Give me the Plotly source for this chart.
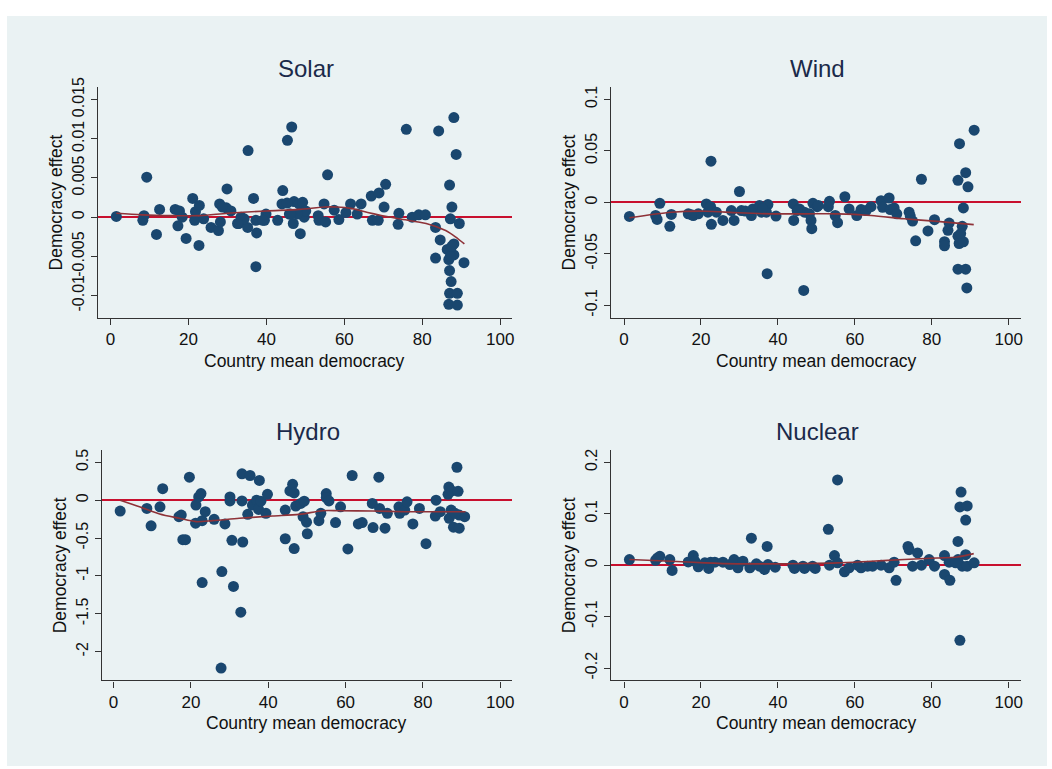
import plotly.graph_objects as go

W, H = 1052, 769

# ---------------- data ----------------
solar_x = [1.5, 8.6, 8.3, 9.3, 11.8, 12.6, 16.6, 17.7, 17.3, 18.4,
           19.4, 21.1, 21.8, 22.8, 21.6, 22.7, 23.9, 25.8, 28.0, 27.7,
           28.2, 29.9, 29.7, 30.9, 32.9, 33.5, 35.2, 35.3, 36.7, 37.3,
           37.5, 37.3, 39.5, 39.9, 42.9, 44.2, 44.0, 45.4, 46.5, 45.9,
           46.9, 47.1, 48.4, 49.3, 48.7, 49.7, 50.1, 53.3, 53.5, 54.8,
           55.2, 55.7, 57.4, 58.6, 60.4, 61.6, 63.3, 64.3, 66.9, 67.2,
           68.7, 68.9, 70.6, 70.2, 74.0, 73.8, 75.9, 77.4, 79.1, 80.8,
           83.4, 83.4, 84.2, 84.6, 86.4, 86.8, 87.0, 87.4, 87.0, 86.8,
           89.0, 89.0, 87.0, 87.6, 87.2, 88.1, 88.7, 89.5, 88.1, 88.1,
           87.6, 90.7, 87.2, 34.3, 39.1, 47.9, 45.3, 28.7, 32.6, 46.2]
solar_y = [0.0001, 0.0002, -0.0004, 0.0051, -0.0022, 0.0010, 0.0010, 0.0008, -0.0011, 0.0000,
           -0.0027, 0.0024, 0.0007, 0.0015, -0.0004, -0.0036, -0.0002, -0.0013, 0.0017, -0.0017,
           -0.0006, 0.0036, 0.0012, 0.0008, -0.0008, 0.0000, -0.0013, 0.0085, 0.0024, -0.0004,
           -0.0020, -0.0063, -0.0004, 0.0004, -0.0004, 0.0034, 0.0017, 0.0098, 0.0115, 0.0004,
           -0.0008, 0.0020, 0.0017, 0.0019, -0.0021, 0.0000, 0.0008, 0.0002, -0.0004, 0.0017,
           -0.0006, 0.0054, 0.0009, -0.0003, 0.0006, 0.0017, 0.0004, 0.0017, 0.0027, -0.0004,
           -0.0004, 0.0031, 0.0042, 0.0013, 0.0005, -0.0009, 0.0112, 0.0000, 0.0003, 0.0003,
           -0.0013, -0.0052, 0.0110, -0.0029, -0.0041, -0.0054, -0.0068, -0.0082, -0.0097, -0.0111,
           -0.0097, -0.0112, 0.0041, 0.0013, -0.0002, 0.0127, 0.0080, -0.0008, -0.0034, -0.0048,
           -0.0037, -0.0058, -0.0050, -0.0002, -0.0004, 0.0004, 0.0018, 0.0013, -0.0008, 0.0004]
solar_fit_x = [1.5, 8, 16, 23, 30, 40, 48.4, 55, 58, 62, 66, 74, 81, 86, 88.5, 90.8]
solar_fit_y = [0.0005, 0.0003, 0.0002, 0.0002, 0.0005, 0.0008, 0.0010, 0.0013, 0.0013,
               0.0011, 0.0006, -0.0002, -0.0008, -0.0017, -0.0025, -0.0034]

wind_x = [1.4, 8.2, 8.6, 9.3, 11.9, 12.3, 16.7, 18.0, 19.3, 21.4,
          21.8, 22.5, 22.6, 22.7, 24.0, 25.7, 27.9, 28.6, 30.0, 30.5,
          33.1, 33.5, 35.2, 35.7, 37.4, 37.0, 37.2, 39.5, 44.0, 44.1,
          45.6, 46.9, 46.7, 48.2, 48.6, 48.8, 49.1, 50.2, 53.4, 53.1,
          54.9, 55.5, 57.4, 58.5, 60.5, 61.6, 62.9, 64.2, 66.8, 67.2,
          68.9, 69.2, 70.2, 70.9, 74.1, 74.4, 75.0, 75.8, 77.3, 79.0,
          80.7, 83.3, 83.3, 84.5, 84.2, 86.8, 87.2, 86.8, 87.1, 86.8,
          88.8, 88.2, 88.8, 89.4, 89.1, 91.0, 88.2, 87.9, 87.5, 17.5,
          31.5, 36.0, 45.0, 50.5]
wind_y = [-0.0137, -0.0128, -0.0166, -0.0010, -0.0233, -0.0118, -0.0112, -0.0128, -0.0112, -0.0016,
          -0.0096, -0.0042, 0.0400, -0.0214, -0.0096, -0.0176, -0.0080, -0.0176, 0.0105, -0.0080,
          -0.0128, -0.0064, -0.0032, -0.0096, -0.0022, -0.0096, -0.0693, -0.0134, -0.0016, -0.0176,
          -0.0064, -0.0096, -0.0856, -0.0112, -0.0176, -0.0256, -0.0010, -0.0042, 0.0010, -0.0042,
          -0.0128, -0.0198, 0.0054, -0.0064, -0.0128, -0.0070, -0.0080, -0.0042, 0.0016, -0.0048,
          0.0042, -0.0070, -0.0054, -0.0112, -0.0096, -0.0134, -0.0182, -0.0374, 0.0224, -0.0278,
          -0.0169, -0.0383, -0.0422, -0.0201, -0.0272, 0.0214, 0.0569, -0.0329, -0.0400, -0.0649,
          -0.0649, -0.0054, 0.0288, 0.0150, -0.0831, 0.0700, -0.0383, -0.0233, -0.0304, -0.0120,
          -0.0085, -0.0060, -0.0080, -0.0030]
wind_fit_x = [1.4, 12.3, 21.0, 29.6, 38.3, 46.9, 55.5, 64.2, 72.8, 81.4, 90.9]
wind_fit_y = [-0.0150, -0.0096, -0.0086, -0.0102, -0.0112, -0.0112, -0.0112, -0.0128,
              -0.0160, -0.0185, -0.0217]

hydro_x = [1.7, 8.6, 9.7, 12.0, 12.7, 16.9, 17.5, 17.9, 18.6, 19.6,
           21.2, 21.3, 22.0, 22.6, 22.9, 22.9, 23.7, 26.0, 28.0, 27.8,
           28.8, 30.1, 30.1, 30.6, 31.0, 33.2, 33.2, 33.4, 32.9, 34.7,
           35.3, 35.9, 37.0, 37.7, 37.5, 38.1, 39.8, 39.4, 44.4, 44.4,
           45.6, 46.3, 46.7, 46.7, 47.1, 48.4, 49.3, 49.0, 49.9, 50.1,
           53.1, 53.6, 55.0, 55.0, 55.7, 57.4, 58.7, 60.6, 61.7, 63.3,
           64.3, 66.9, 67.1, 68.6, 68.8, 70.2, 70.8, 73.8, 74.0, 75.3,
           75.9, 77.4, 79.1, 80.8, 83.4, 83.2, 84.5, 86.7, 86.5, 87.5,
           87.3, 86.8, 87.9, 88.8, 89.1, 89.4, 89.4, 90.8, 88.3]
hydro_y = [-0.143, -0.109, -0.339, -0.087, 0.152, -0.217, -0.196, -0.522, -0.522, 0.304,
           -0.304, -0.065, 0.043, 0.087, -0.270, -1.087, -0.152, -0.252, -0.943, -2.217,
           -0.313, 0.043, -0.009, -0.530, -1.139, 0.348, -0.009, -0.552, -1.478, -0.187,
           0.326, -0.065, 0.000, 0.261, -0.122, -0.013, 0.078, -0.174, -0.130, -0.509,
           0.122, 0.209, 0.096, -0.639, -0.078, -0.043, -0.013, -0.217, -0.291, -0.443,
           -0.270, -0.174, 0.087, 0.035, -0.009, -0.296, -0.087, -0.643, 0.326, -0.313,
           -0.296, -0.043, -0.361, 0.304, -0.109, -0.370, -0.174, -0.087, -0.174, -0.130,
           -0.022, -0.313, -0.109, -0.574, 0.000, -0.209, -0.152, 0.174, 0.078, 0.122,
           -0.130, -0.239, -0.357, 0.435, 0.117, -0.370, -0.196, -0.217, -0.174]
hydro_fit_x = [1.7, 6.7, 11.9, 17.0, 21.3, 25.6, 32.5, 41.1, 48.0, 54.0, 58.3, 66.9, 75.5, 84.1, 91.0]
hydro_fit_y = [0.000, -0.087, -0.183, -0.239, -0.283, -0.270, -0.239, -0.209, -0.187,
               -0.139, -0.139, -0.143, -0.152, -0.152, -0.152]

nuclear_x = [1.4, 8.2, 8.7, 9.3, 11.9, 12.5, 16.7, 18.0, 18.4, 19.3,
             21.0, 22.0, 22.5, 23.6, 25.7, 27.5, 28.6, 29.6, 30.9, 32.7,
             33.1, 34.4, 35.2, 36.5, 37.2, 37.4, 39.3, 43.9, 44.3, 46.5,
             46.9, 49.0, 49.7, 53.1, 53.4, 54.7, 55.5, 55.5, 57.3, 58.5,
             60.7, 61.6, 63.3, 64.6, 66.8, 68.9, 70.2, 70.7, 73.8, 74.1,
             75.0, 76.3, 77.3, 79.3, 80.7, 83.3, 83.3, 84.7, 84.5, 86.8,
             87.6, 87.3, 89.2, 88.8, 87.3, 88.8, 87.9, 86.8, 89.2, 91.0,
             86.2]
nuclear_y = [0.0109, 0.0096, 0.0141, 0.0173, 0.0109, -0.0102, 0.0064, 0.0186, 0.0077, -0.0032,
             0.0045, -0.0064, 0.0058, 0.0058, 0.0058, 0.0013, 0.0109, -0.0051, 0.0077, -0.0051,
             0.0525, 0.0026, -0.0019, -0.0083, 0.0365, 0.0013, -0.0038, 0.0000, -0.0064, -0.0019,
             -0.0064, -0.0019, -0.0064, 0.0697, 0.0000, 0.0186, 0.1657, 0.0045, -0.0128, -0.0051,
             0.0000, -0.0051, -0.0019, -0.0019, 0.0000, -0.0051, 0.0058, -0.0294, 0.0365, 0.0301,
             -0.0019, 0.0237, 0.0000, 0.0109, -0.0019, 0.0186, -0.0179, -0.0294, 0.0058, 0.0461,
             0.1420, 0.1132, 0.1152, 0.0877, -0.1459, 0.0205, -0.0019, 0.0109, -0.0019, 0.0045,
             0.0045]
nuclear_fit_x = [1.4, 12.3, 21.0, 29.6, 38.3, 46.9, 55.5, 64.2, 72.8, 81.4, 86.6, 90.9]
nuclear_fit_y = [0.0109, 0.0077, 0.0045, 0.0026, 0.0026, 0.0032, 0.0045, 0.0077, 0.0109,
                 0.0141, 0.0160, 0.0224]

titles = ["Solar", "Wind", "Hydro", "Nuclear"]
x_ticks = [0, 20, 40, 60, 80, 100]
solar_ticks = [-0.01, -0.005, 0, 0.005, 0.01, 0.015]
solar_tick_text = ["-0.01", "-0.005", "0", "0.005", "0.01", "0.015"]
wind_ticks = [-0.1, -0.05, 0, 0.05, 0.1]
wind_tick_text = ["-0.1", "-0.05", "0", "0.05", "0.1"]
hydro_ticks = [-2, -1.5, -1, -0.5, 0, 0.5]
hydro_tick_text = ["-2", "-1.5", "-1", "-0.5", "0", "0.5"]
nuclear_ticks = [-0.2, -0.1, 0, 0.1, 0.2]
nuclear_tick_text = ["-0.2", "-0.1", "0", "0.1", "0.2"]

# ---------------- style / layout ----------------
BG = "#EAF2F3"
NAVY = "#1A476F"
RED = "#C8102E"
FIT = "#8E3238"
FONT = "Liberation Sans, Arial, sans-serif"

panels = [
    dict(x=solar_x, y=solar_y, fx=solar_fit_x, fy=solar_fit_y,
         ticks=solar_ticks, ttext=solar_tick_text,
         box=(98.3, 513.0, 78.0, 311.7), xr=(-3.2, 102.9), yr=(-0.0128, 0.0166)),
    dict(x=wind_x, y=wind_y, fx=wind_fit_x, fy=wind_fit_y,
         ticks=wind_ticks, ttext=wind_tick_text,
         box=(612.7, 1024.0, 78.0, 311.7), xr=(-3.4, 103.2), yr=(-0.112, 0.112)),
    dict(x=hydro_x, y=hydro_y, fx=hydro_fit_x, fy=hydro_fit_y,
         ticks=hydro_ticks, ttext=hydro_tick_text,
         box=(102.3, 513.3, 445.7, 679.3), xr=(-3.0, 103.0), yr=(-2.38, 0.664)),
    dict(x=nuclear_x, y=nuclear_y, fx=nuclear_fit_x, fy=nuclear_fit_y,
         ticks=nuclear_ticks, ttext=nuclear_tick_text,
         box=(612.7, 1024.0, 445.7, 679.3), xr=(-3.4, 103.2), yr=(-0.224, 0.224)),
]

fig = go.Figure()
layout = dict(
    width=W, height=H, autosize=False,
    margin=dict(l=0, r=0, t=0, b=0),
    paper_bgcolor="white", plot_bgcolor="white",
    showlegend=False,
    font=dict(family=FONT, size=17, color="#111111"),
)
shapes = [dict(type="rect", xref="paper", yref="paper",
               x0=7 / W, x1=1050 / W, y0=1 - 766 / H, y1=1 - 6 / H,
               fillcolor=BG, line=dict(width=0), layer="below")]
annotations = []

for i, p in enumerate(panels):
    n = "" if i == 0 else str(i + 1)
    xa, ya = "x" + n, "y" + n
    l, r, t, b = p["box"]
    # markers
    fig.add_trace(go.Scatter(
        x=p["x"], y=p["y"], mode="markers", xaxis=xa, yaxis=ya,
        marker=dict(size=11, color=NAVY, line=dict(width=0)),
        hoverinfo="x+y", cliponaxis=False))
    # lowess smoother
    fig.add_trace(go.Scatter(
        x=p["fx"], y=p["fy"], mode="lines", xaxis=xa, yaxis=ya,
        line=dict(color=FIT, width=1.6, shape="spline", smoothing=0.8),
        hoverinfo="skip"))
    layout["xaxis" + n] = dict(
        domain=[l / W, r / W], range=list(p["xr"]), anchor=ya,
        tickvals=x_ticks, ticks="outside", ticklen=6, tickwidth=1.2,
        tickcolor="#333333", showline=True, linecolor="#333333", linewidth=1.4,
        showgrid=False, zeroline=False, tickfont=dict(size=17, color="#111111"),
        fixedrange=True)
    layout["yaxis" + n] = dict(
        domain=[1 - b / H, 1 - t / H], range=list(p["yr"]), anchor=xa,
        tickvals=p["ticks"], ticktext=p["ttext"], tickangle=-90,
        ticks="outside", ticklen=6, tickwidth=1.2, tickcolor="#333333",
        showline=True, linecolor="#333333", linewidth=1.4,
        showgrid=True, gridcolor=BG, gridwidth=1.5,
        zeroline=True, zerolinecolor=RED, zerolinewidth=1.6,
        tickfont=dict(size=16, color="#111111"), fixedrange=True)
    cx = (l + r) / 2
    annotations.append(dict(text=titles[i], xref="paper", yref="paper",
                            x=(cx + 1) / W, y=1 - (t - 19) / H, showarrow=False,
                            xanchor="center", yanchor="middle",
                            font=dict(size=24, color="#1B2A4A", family=FONT)))
    annotations.append(dict(text="Country mean democracy", xref="paper", yref="paper",
                            x=cx / W, y=1 - (b + 43.5) / H, showarrow=False,
                            xanchor="center", yanchor="middle",
                            font=dict(size=17.5, color="#111111", family=FONT)))
    annotations.append(dict(text="Democracy effect", xref="paper", yref="paper",
                            x=(l - 42) / W, y=1 - ((t + b) / 2) / H, showarrow=False,
                            textangle=-90, xanchor="center", yanchor="middle",
                            font=dict(size=17.5, color="#111111", family=FONT)))

layout["shapes"] = shapes
layout["annotations"] = annotations
fig.update_layout(**layout)

pin_script = (
    "document.documentElement.style.margin='0';"
    "document.body.style.margin='0';"
    "document.body.style.overflow='hidden';"
    "var d=document.getElementById('{plot_id}');"
    "d.style.position='fixed';d.style.top='0px';d.style.left='0px';"
)
fig.write_html("out.html", config={"displayModeBar": False, "responsive": False},
               post_script=pin_script)
